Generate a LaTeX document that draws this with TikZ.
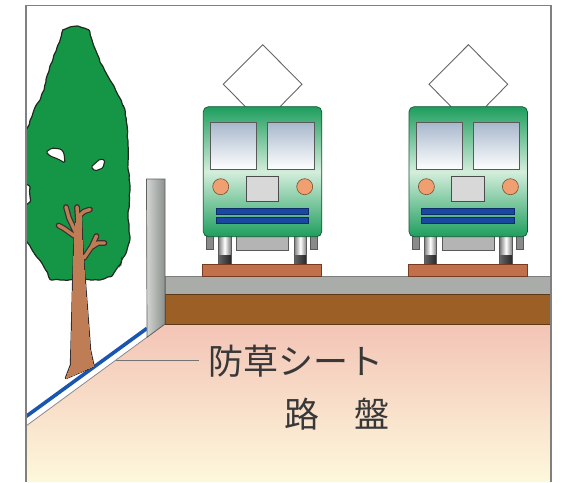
\documentclass[tikz,border=0pt]{standalone}
\usepackage{fontspec}
\newfontfamily\jpfont{Noto Sans CJK JP}
\usetikzlibrary{decorations.pathmorphing}

\definecolor{framegray}{HTML}{808080}
\definecolor{bedtop}{HTML}{F3C4B6}
\definecolor{bedbot}{HTML}{FDF8DC}
\definecolor{edgegray}{HTML}{8A8A8A}
\definecolor{sheetblue}{HTML}{1A55B0}
\definecolor{ballast}{HTML}{AAACAA}
\definecolor{ballastdk}{HTML}{7C7E7C}
\definecolor{soil}{HTML}{9C6026}
\definecolor{soildk}{HTML}{5E3A12}
\definecolor{postlt}{HTML}{D2D5D2}
\definecolor{postdk}{HTML}{8C908C}
\definecolor{postline}{HTML}{5E605E}
\definecolor{leafgreen}{HTML}{149646}
\definecolor{leafline}{HTML}{1E2A1E}
\definecolor{barkbrown}{HTML}{BE7D55}
\definecolor{barkline}{HTML}{3A3030}
\definecolor{tgreen}{HTML}{1E9E5E}
\definecolor{tpale}{HTML}{D4EEDC}
\definecolor{tline}{HTML}{0E5A34}
\definecolor{wintop}{HTML}{A8B8CC}
\definecolor{lampfill}{HTML}{F0A070}
\definecolor{lampline}{HTML}{7A5030}
\definecolor{plate}{HTML}{D8D8D8}
\definecolor{stripe}{HTML}{1848A0}
\definecolor{stripedk}{HTML}{0E2C68}
\definecolor{undermid}{HTML}{B4B4B4}
\definecolor{underdk}{HTML}{8A8A8A}
\definecolor{wheelgray}{HTML}{7A7A7A}
\definecolor{wheeldk}{HTML}{2E2E2E}
\definecolor{sleeper}{HTML}{C0704A}
\definecolor{sleeperdk}{HTML}{7A3A20}
\definecolor{textgray}{HTML}{383838}

\tikzset{
  panto/.style={draw=black!60, line width=0.9pt},
  bodyline/.style={draw=tline, line width=0.7pt},
  partline/.style={draw=black!65, line width=0.6pt},
  labeltext/.style={inner sep=0pt, text=textgray, font=\jpfont\fontsize{35}{35}\selectfont},
}

% one tram seen from the front, shifted right by #1
\newcommand\tramfront[1]{%
\begin{scope}[xshift=#1]
  % pantograph
  \draw[panto] (245.5,106.7) -- (223.3,84.3) -- (262.7,44.7) -- (302,84.3) -- (280,106.7);
  % under-floor parts
  \filldraw[fill=underdk, partline] (206.7,230) rectangle (213.3,249);
  \filldraw[fill=underdk, partline] (310.7,230) rectangle (317.3,249);
  \filldraw[fill=undermid, partline] (236.7,230) rectangle (288.3,250.7);
  \foreach \wx in {218.3,294}{
    \shade[left color=wheelgray, right color=wheelgray, middle color=white]
      (\wx,230) rectangle ++(12.6,25);
    \shade[left color=black!60, right color=black!85] (\wx,255) rectangle ++(12.6,9);
    \draw[partline] (\wx,230) rectangle ++(12.6,34);
  }
  % sleeper block
  \filldraw[fill=sleeper, draw=sleeperdk, line width=0.6pt] (202.7,264) rectangle (321.7,276.7);
  % body
  \shade[top color=tgreen, bottom color=tgreen, middle color=tpale, rounded corners=5pt]
    (203.3,106.7) rectangle (321.7,236.7);
  \draw[bodyline, rounded corners=5pt] (203.3,106.7) rectangle (321.7,236.7);
  % windows
  \shade[top color=wintop, bottom color=white] (210.7,122.7) rectangle (256.7,169.3);
  \draw[partline] (210.7,122.7) rectangle (256.7,169.3);
  \shade[top color=wintop, bottom color=white] (267.7,122.7) rectangle (314,169.3);
  \draw[partline] (267.7,122.7) rectangle (314,169.3);
  % head lamps and number plate
  \filldraw[fill=lampfill, draw=lampline, line width=0.6pt] (220.7,186.7) circle (8);
  \filldraw[fill=lampfill, draw=lampline, line width=0.6pt] (304.7,186.7) circle (8);
  \filldraw[fill=plate, draw=black!70, line width=0.7pt] (246,176.7) rectangle (278.7,201);
  % stripes
  \filldraw[fill=stripe, draw=stripedk, line width=0.5pt] (216,208.7) rectangle (308.7,214);
  \filldraw[fill=stripe, draw=stripedk, line width=0.5pt] (216,217.7) rectangle (308.7,223.3);
\end{scope}}

\begin{document}
\begin{tikzpicture}[x=1pt, y=-1pt]
  \useasboundingbox (0,0) rectangle (564,482);
  \fill[white] (0,0) rectangle (564,482);

  % roadbed
  \shade[top color=bedtop, bottom color=bedbot]
    (26,426) -- (165,324) -- (551,324) -- (551,482) -- (26,482) -- cycle;
  \draw[edgegray, line width=0.8pt] (26,426) -- (165,324);

  % weed-proof sheet on the slope
  \draw[sheetblue, line width=3.6pt] (26,416.5) -- (147,328.3);

  % ballast and earth layers
  \filldraw[fill=ballast, draw=ballastdk, line width=0.6pt] (165,276.7) rectangle (551,294);
  \filldraw[fill=soil, draw=soildk, line width=0.6pt] (165,294) rectangle (551,324);

  % post
  \shade[left color=postlt, right color=postdk]
    (146.5,179) -- (165,179) -- (165,324) -- (147,337.2) -- cycle;
  \draw[postline, line width=0.7pt]
    (146.5,179) -- (165,179) -- (165,324) -- (147,337.2) -- cycle;

  % trams
  \tramfront{0}
  \tramfront{205.7}

  % tree crown
  \begin{scope}
    \clip (26.6,0) rectangle (564,482);
    \pgfmathsetseed{11}
    \filldraw[fill=leafgreen, draw=leafline, line width=1.2pt, rounded corners=1pt,
      decorate, decoration={random steps, segment length=3.5pt, amplitude=0.7pt}]
      (63,30) -- (70,27) -- (77,26) -- (84,28) -- (89,30) -- (92,40) -- (96,51)
      -- (100,62) -- (105,71) -- (110,80) -- (116,91) -- (121,100) -- (125,110)
      -- (127,125) -- (128,145) -- (128,163) -- (130,190) -- (128,217) -- (130,237)
      -- (127,250) -- (121,263) -- (112,276) -- (100,280) -- (51,280) -- (44,267)
      -- (36,256) -- (30,246) -- (23,236) -- (23,206) -- (30,202) -- (30,187)
      -- (23,181) -- (23,135) -- (29,125) -- (34,110) -- (40,100) -- (44,90)
      -- (47,76) -- (50,66) -- (54,55) -- (58,45) -- (61,37) -- cycle;
  \end{scope}
  % gaps in the foliage
  \filldraw[fill=white, draw=leafline, line width=1.1pt, rounded corners=1.5pt]
    (46,152) -- (52,148) -- (61,149) -- (64,153) -- (65,163) -- (58,159) -- (50,156) -- cycle;
  \filldraw[fill=white, draw=leafline, line width=1.1pt, rounded corners=1.5pt]
    (91,167) -- (100,159) -- (105,160) -- (103,168) -- (95,171) -- cycle;

  % trunk and branches: dark pass first, then bark colour
  \foreach \col/\extra in {barkline/2.4, barkbrown/0}{
    \filldraw[fill=\col, draw=\col, line width=\extra pt, line join=round]
      (66,378) -- (71,365) -- (72,330) -- (73,290) -- (74,255) -- (75,230)
      -- (77,214) -- (81,214) -- (82,240) -- (84,270) -- (87,310) -- (90,350)
      -- (93.5,366) -- (80,372) -- cycle;
    \draw[\col, line width={3.4+\extra}, line cap=round, line join=round]
      (75.5,232) -- (69,218) -- (66,207)
      (78,222) -- (77,207)
      (78,217) -- (84,211.5) -- (90,209.5)
      (74.5,236) -- (64,228.5) -- (58.5,225.5)
      (84,258) -- (92,246) -- (96.5,236)
      (91,247.5) -- (98,243) -- (104.5,243);
  }

  % labels
  \coordinate (leadstart) at (115.9,360);
  \coordinate (leadend) at (199,360);
  \draw[black!55, line width=0.8pt] (leadstart) -- (leadend);
  \node[labeltext, anchor=base west] (sheetlabel) at (208,374) {防草シート};
  \node[labeltext, anchor=base west] (bedlabel) at (284,427) {路　盤};

  % frame
  \draw[framegray, line width=1.2pt] (26,482) -- (26,5.4) -- (551,5.4) -- (551,482);
\end{tikzpicture}
\end{document}
